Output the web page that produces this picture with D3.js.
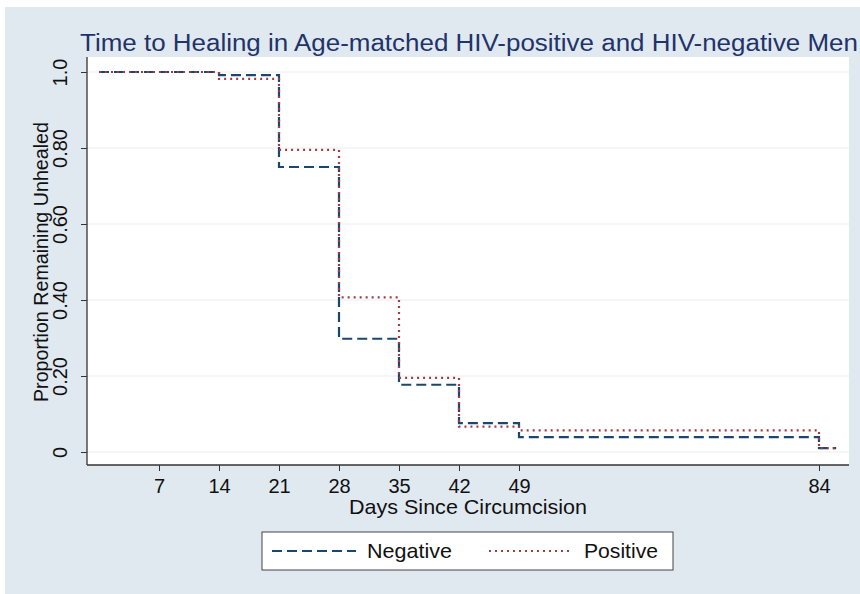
<!DOCTYPE html>
<html>
<head>
<meta charset="utf-8">
<script src="https://cdn.jsdelivr.net/npm/d3@7"></script>
<style>
  body { margin: 0; background: #fff; }
  text { font-family: "Liberation Sans", Arial, sans-serif; }
</style>
</head>
<body>
<div id="chart"></div>
<script>
// data
const days = [0, 14, 21, 28, 35, 42, 49, 84, 86];
const negative = [1.0, 0.992, 0.75, 0.298, 0.177, 0.076, 0.039, 0.01, 0.01];
const positive = [1.0, 0.982, 0.795, 0.407, 0.195, 0.067, 0.057, 0.01, 0.01];
const xTicks = [7, 14, 21, 28, 35, 42, 49, 84];
const yTicks = [0, 0.2, 0.4, 0.6, 0.8, 1.0];
const yTickLabels = ["0", "0.20", "0.40", "0.60", "0.80", "1.0"];
const seriesNames = ["Negative", "Positive"];

const width = 860, height = 594;
const navy = "#1a476f", maroon = "#a23b45";
const font = "Liberation Sans, Arial, sans-serif";

const svg = d3.select("#chart").append("svg")
  .attr("width", width).attr("height", height);

// graph region
svg.append("rect").attr("x", 5).attr("y", 7)
  .attr("width", width - 5).attr("height", height - 7)
  .attr("fill", "#e0e8f0");

const plot = {left: 87, right: 849, top: 57, bottom: 465};

svg.append("rect").attr("x", plot.left).attr("y", plot.top)
  .attr("width", plot.right - plot.left).attr("height", plot.bottom - plot.top)
  .attr("fill", "#fff");

// scales
const x = d3.scaleLinear().domain([0, 84]).range([99, 819]);
const y = d3.scaleLinear().domain([0, 1]).range([452, 72]);

// grid
svg.append("g").selectAll("line").data(yTicks).join("line")
  .attr("x1", plot.left).attr("x2", plot.right)
  .attr("y1", d => y(d)).attr("y2", d => y(d))
  .attr("stroke", "#ececec").attr("stroke-width", 1);

// x axis
const xAxis = svg.append("g")
  .attr("transform", `translate(0,${plot.bottom})`)
  .call(d3.axisBottom(x).tickValues(xTicks).tickSize(6).tickPadding(4).tickSizeOuter(0));
xAxis.attr("font-size", 20).attr("font-family", font);
xAxis.select(".domain").attr("d", `M${plot.left},0H${plot.right}`).attr("stroke", "#333").attr("stroke-width", 1.3);
xAxis.selectAll(".tick line").attr("stroke", "#333");
xAxis.selectAll(".tick text").attr("fill", "#111").attr("dy", null).attr("y", 28);

// y axis
const yAxis = svg.append("g")
  .attr("transform", `translate(${plot.left},0)`)
  .call(d3.axisLeft(y).tickValues(yTicks).tickSize(6).tickSizeOuter(0)
    .tickFormat((d, i) => yTickLabels[i]));
yAxis.attr("font-size", 20).attr("font-family", font);
yAxis.select(".domain").attr("d", `M0,${plot.top}V${plot.bottom}`).attr("stroke", "#333").attr("stroke-width", 1.3);
yAxis.selectAll(".tick line").attr("stroke", "#333");
yAxis.selectAll(".tick text")
  .attr("fill", "#111")
  .attr("x", null).attr("dy", null)
  .attr("text-anchor", "middle")
  .attr("transform", "translate(-20,0) rotate(-90)");

// step lines
const line = d3.line()
  .x(d => x(d[0])).y(d => y(d[1]))
  .curve(d3.curveStepAfter);

svg.append("path")
  .datum(days.map((d, i) => [d, negative[i]]))
  .attr("d", line).attr("fill", "none")
  .attr("stroke", navy).attr("stroke-width", 2.2)
  .attr("stroke-dasharray", "10,5");

svg.append("path")
  .datum(days.map((d, i) => [d, positive[i]]))
  .attr("d", line).attr("fill", "none")
  .attr("stroke", maroon).attr("stroke-width", 2.2)
  .attr("stroke-dasharray", "2,4");

// title
svg.append("text")
  .attr("x", 80).attr("y", 51)
  .attr("font-size", 23).attr("fill", "#22336a")
  .attr("textLength", 778).attr("lengthAdjust", "spacingAndGlyphs")
  .text("Time to Healing in Age-matched HIV-positive and HIV-negative Men");

// axis titles
svg.append("text")
  .attr("x", 468).attr("y", 514)
  .attr("text-anchor", "middle").attr("font-size", 21).attr("fill", "#111")
  .attr("textLength", 238).attr("lengthAdjust", "spacingAndGlyphs")
  .text("Days Since Circumcision");

svg.append("text")
  .attr("transform", `translate(48,${(y(0) + y(1)) / 2}) rotate(-90)`)
  .attr("text-anchor", "middle").attr("font-size", 21).attr("fill", "#111")
  .attr("textLength", 280).attr("lengthAdjust", "spacingAndGlyphs")
  .text("Proportion Remaining Unhealed");

// legend
const lg = svg.append("g");
lg.append("rect").attr("x", 262).attr("y", 532).attr("width", 411).attr("height", 38)
  .attr("fill", "#fff").attr("stroke", "#444").attr("stroke-width", 1);

const legendItems = [
  {name: seriesNames[0], color: navy, dash: "10,5", x1: 272, x2: 356, tx: 367, w: 85},
  {name: seriesNames[1], color: maroon, dash: "2,4", x1: 489, x2: 570, tx: 584, w: 74}
];
legendItems.forEach(it => {
  lg.append("line").attr("x1", it.x1).attr("x2", it.x2).attr("y1", 551).attr("y2", 551)
    .attr("stroke", it.color).attr("stroke-width", 2.2).attr("stroke-dasharray", it.dash);
  lg.append("text").attr("x", it.tx).attr("y", 558)
    .attr("font-size", 21).attr("fill", "#111")
    .attr("textLength", it.w).attr("lengthAdjust", "spacingAndGlyphs")
    .text(it.name);
});
</script>
</body>
</html>
